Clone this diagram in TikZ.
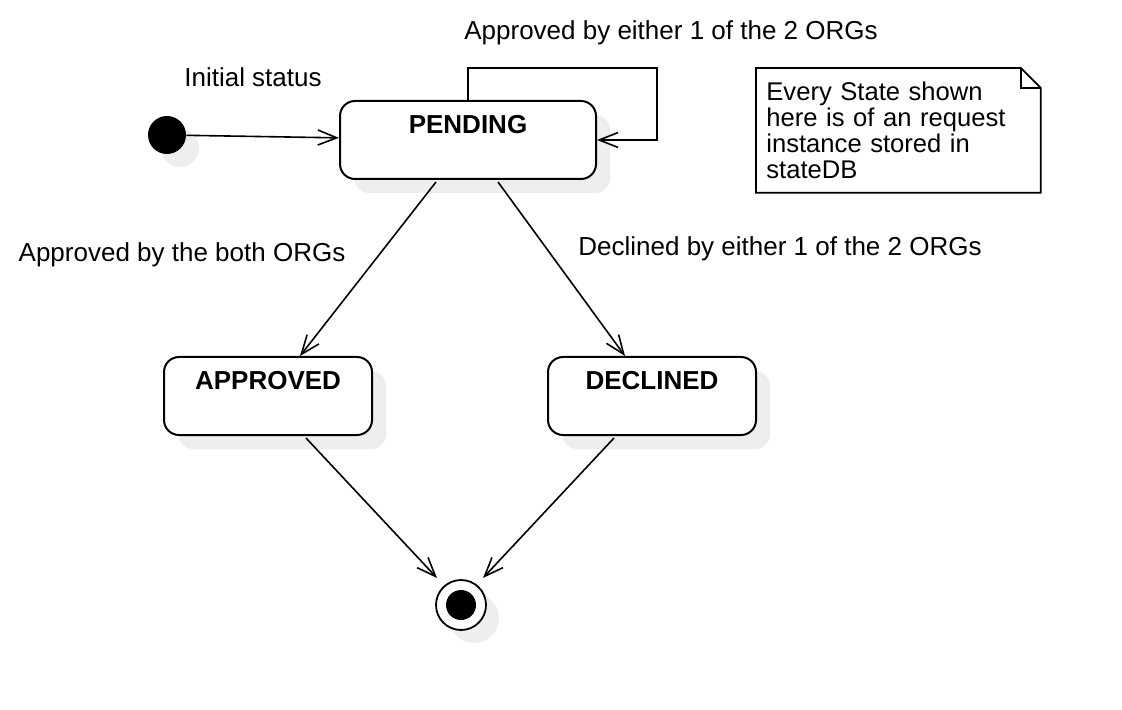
\documentclass[tikz,border=0pt]{standalone}
\usepackage{fontspec}
\setmainfont{Liberation Sans}
\usetikzlibrary{arrows.meta, positioning, shadows}
\definecolor{shd}{HTML}{EEEEEE}
\tikzset{
  S/.style={draw, line width=1pt, rounded corners=7.5pt, fill=white,
    minimum width=104pt, inner sep=0pt, text height=16.5pt, text depth=22.5pt,
    font=\fontsize{13}{13}\selectfont\bfseries, anchor=north,
    drop shadow={shadow xshift=7pt, shadow yshift=-7pt, fill=shd, opacity=1}},
  dot/.style={circle, fill=black, inner sep=0pt, minimum size=19pt,
    drop shadow={shadow xshift=6.5pt, shadow yshift=-6.5pt, fill=shd, opacity=1}},
  fin/.style={circle, draw, line width=0.9pt, fill=white, inner sep=0pt, minimum size=25pt,
    drop shadow={shadow xshift=6.5pt, shadow yshift=-6.5pt, fill=shd, opacity=1}},
  A/.style={-{Straight Barb[length=9.5pt,width=7.5pt]}, line width=0.8pt},
  lab/.style={font=\fontsize{13}{13}\selectfont, inner sep=0pt},
  note/.style={font=\fontsize{12.8}{13}\selectfont, align=left, anchor=north west,
    text width=132pt, inner xsep=5pt, inner ysep=0pt, minimum height=62pt},
}
\begin{document}
\begin{tikzpicture}[x=0.5pt, y=-0.5pt]
\useasboundingbox (0,0) rectangle (1122,710);

% =====================================================================
% STATES
% =====================================================================
\node[dot] (init) at (167,135) {};
\node[S, minimum width=128pt] (pend) at (468,100) {PENDING};
\node[S] (appr) at (268,356) {APPROVED};
\node[S] (decl) at (652,356) {DECLINED};
\node[fin] (final) at (461,605) {};
\node[circle, fill=black, inner sep=0pt, minimum size=15pt] (findot) at (final) {};

% ── transitions ──────────────────────────────────────────────────────
\draw[A] (init) -- (pend);
\draw[A] (pend.north) -- ++(0,-32) -| ([xshift=30pt]pend.east) -- (pend.east);
\draw[A] ([xshift=-16pt,yshift=-1pt]pend.south) -- ([xshift=16pt]appr.north);
\draw[A] ([xshift=15pt,yshift=-1pt]pend.south) -- ([xshift=-13.5pt]decl.north);
\draw[A] ([xshift=19pt,yshift=-1pt]appr.south) -- ([shift={(-12pt,13.5pt)}]final.center);
\draw[A] ([xshift=-19pt,yshift=-1pt]decl.south) -- ([shift={(11pt,13.5pt)}]final.center);

% ── labels ───────────────────────────────────────────────────────────
\node[lab] (linit) at (253,77) {Initial status};
\node[lab] (lloop) at (671,33) {Approved by either 1 of the 2 ORGs};
\node[lab] (lappr) at (182,255) {Approved by the both ORGs};
\node[lab] (ldecl) at (780,249) {Declined by either 1 of the 2 ORGs};

% =====================================================================
% NOTE
% =====================================================================
\node[note] (nt) at (756,68) {Every State shown\\here is of an request\\instance stored in\\stateDB\\[2pt]};
\draw[line width=0.9pt] (nt.north west) -- ([xshift=-10pt]nt.north east)
  -- ([yshift=-10pt]nt.north east) -- (nt.south east) -- (nt.south west) -- cycle;
\draw[line width=0.9pt] ([xshift=-10pt]nt.north east) |- ([yshift=-10pt]nt.north east);

\end{tikzpicture}
\end{document}
